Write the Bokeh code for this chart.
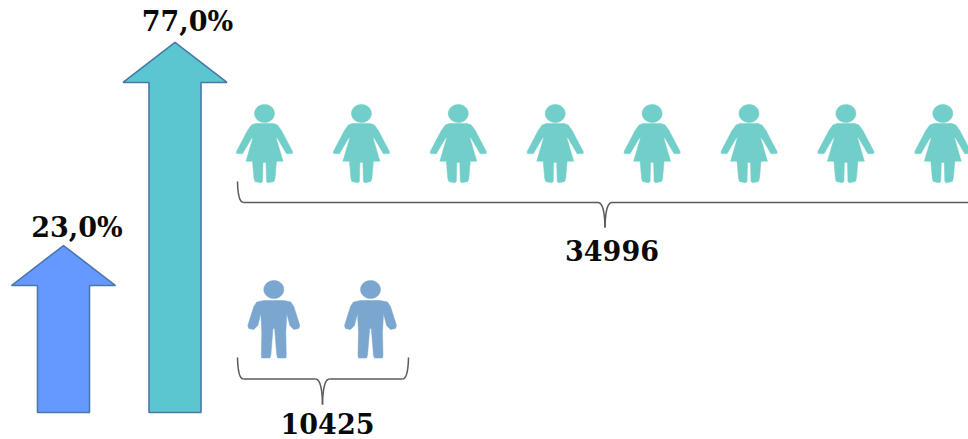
from bokeh.plotting import figure
from bokeh.models import Range1d
from bokeh.core.properties import value
from bokeh.embed import file_html
from bokeh.resources import INLINE
import numpy as np

# Values
pct_values = [23.0, 77.0]
pct_labels = ["23,0%", "77,0%"]
count_labels = ["10425", "34996"]
icons_per_group = [2, 8]

W, H = 968, 439
p = figure(width=W, height=H, output_backend="svg", toolbar_location=None,
           x_range=Range1d(0, W), y_range=Range1d(H, 0),
           min_border=0, outline_line_color=None)
p.axis.visible = False
p.grid.visible = False
p.background_fill_color = "white"
p.border_fill_color = "white"

BASE = 412
def pct_y(v):
    return BASE - 80.5 - 3.76 * v

ARROW_FILL = ["#6699FF", "#5BC5D0"]
ARROW_CX = [63, 174.5]
for v, cx, col, lab in zip(pct_values, ARROW_CX, ARROW_FILL, pct_labels):
    tip = pct_y(v)
    head = tip + 40
    xs = [cx, cx + 52, cx + 26, cx + 26, cx - 26, cx - 26, cx - 52]
    ys = [tip, head, head, BASE, BASE, head, head]
    p.patch(xs, ys, fill_color=col, line_color="#4A78A8", line_width=1.6)

def label(x, y, t):
    p.text([x], [y], text=[t], text_font=value("DejaVu Serif"), text_font_style="bold",
           text_font_size="27px", text_align="center", text_baseline="middle",
           text_color="#0a0a0a")

label(76.5, 227, pct_labels[0])
label(187, 21, pct_labels[1])
label(327, 423, count_labels[0])
label(611.5, 250, count_labels[1])

def mirror(half):
    right = list(half)
    left = [(-dx, y) for dx, y in reversed(half)]
    return right + left

WOMAN = mirror([(1.5, 123), (9, 123), (13, 124.5), (17, 130), (28, 151), (28, 153), (22, 153.3),
                (13, 138), (11.5, 137), (18.5, 160.7), (12, 160.7), (10.5, 178), (9.5, 181), (3.5, 182.3),
                (2, 181), (1.5, 162)])
MAN = mirror([(1, 300), (10, 300), (17, 301.5), (20, 306), (26, 325), (25, 328), (20, 329),
              (16, 325), (13, 313), (12, 332), (12.5, 355), (12, 357.5), (4, 357.5), (3, 355), (0.8, 328)])

def person(cx, shape, head_y, col):
    xs = [cx + a for a, _ in shape]
    ys = [b for _, b in shape]
    p.patch(xs, ys, fill_color=col, line_color=col, line_width=0.5)
    t = np.linspace(0, 2 * np.pi, 40)
    p.patch(cx + 10 * np.cos(t), head_y + 9 * np.sin(t), fill_color=col, line_color=col, line_width=0.5)

for i in range(icons_per_group[1]):
    person(264 + 96.9 * i, WOMAN, 113, "#72CEC8")
for i in range(icons_per_group[0]):
    person(273.3 + 96.7 * i, MAN, 289, "#7BA6CF")

def bez(p0, p1, p2, n=14):
    t = np.linspace(0, 1, n)[:, None]
    a, b, c = np.array(p0, float), np.array(p1, float), np.array(p2, float)
    return (1 - t) ** 2 * a + 2 * t * (1 - t) * b + t ** 2 * c

def brace(x0, x1, xm, top, mid, tip):
    segs = [
        bez((x0, top), (x0 + 0.5, mid), (x0 + 6, mid)),
        np.array([[x0 + 6, mid], [xm - 7, mid]], float),
        bez((xm - 7, mid), (xm - 0.5, mid), (xm, tip)),
        bez((xm, tip), (xm + 0.5, mid), (xm + 7, mid)),
        np.array([[xm + 7, mid], [x1 - 6, mid]], float),
        bez((x1 - 6, mid), (x1 - 0.5, mid), (x1, top)),
    ]
    for s in segs:
        p.line(s[:, 0], s[:, 1], line_color="#5a5a5a", line_width=1.5)

brace(237, 408, 322, 357, 378.5, 404)
brace(237, 974, 604.5, 181, 202, 227)

html = file_html(p, INLINE)
open("out.html", "w").write(html)
